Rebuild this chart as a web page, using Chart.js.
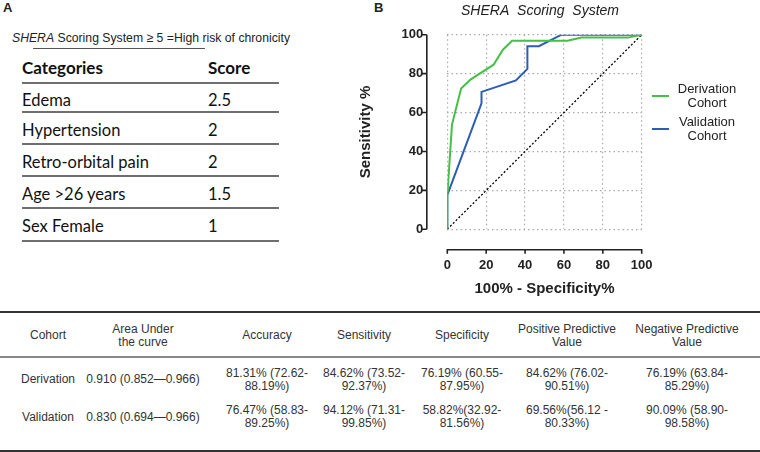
<!DOCTYPE html>
<html>
<head>
<meta charset="utf-8">
<title>SHERA Scoring System</title>
<script src="https://cdn.jsdelivr.net/npm/chart.js"></script>
<style>
  body { margin: 0; background: #fff; width: 760px; height: 452px; position: relative; overflow: hidden; font-family: "Liberation Sans", Arial, sans-serif; color: #222; }
  .abs { position: absolute; white-space: nowrap; }
  .panel { font: bold 13px "Liberation Sans", Arial, sans-serif; line-height: 16px; }
  .cat { font: 16.5px Lato, sans-serif; line-height: 20px; color: #111; }
  .cat.head { font-weight: bold; font-size: 17px; }
  .rule { position: absolute; height: 2px; background: #6f6f6f; }
  .cell { position: absolute; font: 12px "Liberation Sans", Arial, sans-serif; line-height: 13px; color: #333; text-align: center; white-space: pre-line; width: 140px; }
  #chartBox { position: absolute; left: 355px; top: 0; width: 405px; height: 300px; }
</style>
</head>
<body>
<div class="abs panel" style="left:3px;top:0px">A</div>
<div class="abs panel" style="left:374px;top:0px">B</div>
<div id="sub" class="abs" style="left:12px;top:30px;font:13px 'Liberation Sans',Arial,sans-serif;line-height:16px;transform-origin:0 0"><i>SHERA</i> Scoring System ≥ 5 =High risk of chronicity</div>
<div class="rule" style="left:33px;top:48px;width:172px;height:1px;background:#555"></div>
<div id="scoreTable"></div>
<div id="statsTable"></div>
<div id="chartBox"><canvas id="roc"></canvas></div>

<script>
// score table
const categories = ["Edema", "Hypertension", "Retro-orbital pain", "Age >26 years", "Sex Female"];
const scores = ["2.5", "2", "2", "1.5", "1"];

// ROC curves (x = 100% - specificity, y = sensitivity)
const derivX = [0, 0, 2.4, 7.1, 11.9, 23.8, 28.6, 33.3, 61.9, 69.0, 92.9, 100];
const derivY = [0, 16.9, 53.8, 72.3, 76.9, 84.6, 92.3, 96.9, 96.9, 98.5, 98.5, 100];
const validX = [0, 0, 17.6, 17.6, 35.3, 41.2, 41.2, 47.1, 58.8, 100];
const validY = [0, 17.6, 64.7, 70.6, 76.5, 82.4, 94.1, 94.1, 100, 100];
const refX = [0, 100];
const refY = [0, 100];
const axisTicks = [0, 20, 40, 60, 80, 100];

// stats table
const statHeaders = ["Cohort", "Area Under\nthe curve", "Accuracy", "Sensitivity", "Specificity", "Positive Predictive\nValue", "Negative Predictive\nValue"];
const derivStats = ["Derivation", "0.910 (0.852—0.966)", "81.31% (72.62-\n88.19%)", "84.62% (73.52-\n92.37%)", "76.19% (60.55-\n87.95%)", "84.62% (76.02-\n90.51%)", "76.19% (63.84-\n85.29%)"];
const validStats = ["Validation", "0.830 (0.694—0.966)", "76.47% (58.83-\n89.25%)", "94.12% (71.31-\n99.85%)", "58.82%(32.92-\n81.56%)", "69.56%(56.12 -\n80.33%)", "90.09% (58.90-\n98.58%)"];

// squeeze the subtitle like a condensed face
const sub = document.getElementById("sub");
sub.style.transform = "scaleX(" + (278 / sub.getBoundingClientRect().width) + ")";

// left table
let html = "";
html += '<div class="abs cat head" style="left:22px;top:58px">Categories</div>';
html += '<div class="abs cat head" style="left:208px;top:58px">Score</div>';
const lineYs = [82, 111, 143, 175, 207, 240];
lineYs.forEach(y => { html += '<div class="rule" style="left:22px;width:257px;top:' + y + 'px"></div>'; });
const rowYs = [100, 130, 162, 194, 226];
categories.forEach((c, i) => {
  html += '<div class="abs cat" style="left:22px;top:' + (rowYs[i] - 10) + 'px">' + c + '</div>';
  html += '<div class="abs cat" style="left:208px;top:' + (rowYs[i] - 10) + 'px">' + scores[i] + '</div>';
});
document.getElementById("scoreTable").innerHTML = html;

// bottom table
const colX = [48, 143, 267, 364, 462, 567, 687];
let st = "";
st += '<div class="rule" style="left:0;width:760px;top:311px;height:1.5px;background:#333"></div>';
st += '<div class="rule" style="left:0;width:760px;top:356px;height:2px;background:#888"></div>';
st += '<div class="rule" style="left:0;width:760px;top:450px;height:1.5px;background:#333"></div>';
[[statHeaders, 335.5], [derivStats, 379.5], [validStats, 417]].forEach(([row, cy]) => {
  row.forEach((t, i) => {
    const n = t.split("\n").length;
    st += '<div class="cell" style="left:' + (colX[i] - 70) + 'px;top:' + (cy - n * 6.5) + 'px">' + t + '</div>';
  });
});
document.getElementById("statsTable").innerHTML = st;

// chart
const pts = (xs, ys) => xs.map((x, i) => ({ x: x, y: ys[i] }));

const offsetAxes = {
  id: "offsetAxes",
  afterDraw(chart) {
    const { ctx, chartArea, scales } = chart;
    const ax = chartArea.left - 20.5;
    const ay = chartArea.bottom + 20.5;
    ctx.save();
    ctx.strokeStyle = "#222";
    ctx.lineWidth = 1.6;
    ctx.beginPath();
    ctx.moveTo(ax, scales.y.getPixelForValue(100));
    ctx.lineTo(ax, scales.y.getPixelForValue(0));
    axisTicks.forEach(v => {
      const py = scales.y.getPixelForValue(v);
      ctx.moveTo(ax, py);
      ctx.lineTo(ax - 5, py);
    });
    ctx.moveTo(scales.x.getPixelForValue(0), ay);
    ctx.lineTo(scales.x.getPixelForValue(100), ay);
    axisTicks.forEach(v => {
      const px = scales.x.getPixelForValue(v);
      ctx.moveTo(px, ay - 0.8);
      ctx.lineTo(px, ay + 4);
    });
    ctx.stroke();

    // title
    ctx.fillStyle = "#222";
    ctx.font = "italic 14px 'Liberation Sans', Arial, sans-serif";
    ctx.textAlign = "center";
    ctx.textBaseline = "middle";
    ctx.fillText("SHERA  Scoring  System", 185, 11);

    // legend
    ctx.font = "13px 'Liberation Sans', Arial, sans-serif";
    const legendY = [96, 129];
    [0, 1].forEach(i => {
      const ds = chart.data.datasets[i];
      ctx.strokeStyle = ds.borderColor;
      ctx.lineWidth = 2;
      ctx.beginPath();
      ctx.moveTo(297, legendY[i]);
      ctx.lineTo(314, legendY[i]);
      ctx.stroke();
      ctx.fillText(ds.label[0], 352, legendY[i] - 6.5);
      ctx.fillText(ds.label[1], 352, legendY[i] + 7);
    });
    ctx.restore();
  }
};

const tickFont = { family: "'Liberation Sans', Arial, sans-serif", size: 13, weight: "bold" };
const titleFont = { family: "'Liberation Sans', Arial, sans-serif", size: 15, weight: "bold" };

new Chart(document.getElementById("roc"), {
  type: "line",
  data: {
    datasets: [
      { label: ["Derivation", "Cohort"], data: pts(derivX, derivY), borderColor: "#46bf46", borderWidth: 2, pointRadius: 0, tension: 0 },
      { label: ["Validation", "Cohort"], data: pts(validX, validY), borderColor: "#2c5db3", borderWidth: 2, pointRadius: 0, tension: 0 },
      { label: ["ref"], data: pts(refX, refY), borderColor: "#000", borderWidth: 1.3, borderDash: [2, 2], pointRadius: 0 }
    ]
  },
  options: {
    responsive: true,
    maintainAspectRatio: false,
    animation: false,
    layout: { padding: { left: 0, top: 34.7, right: 118.3, bottom: 0 } },
    plugins: { legend: { display: false }, tooltip: { enabled: false }, title: { display: false } },
    scales: {
      x: {
        type: "linear", min: 0, max: 100,
        afterFit: s => { s.height = 70.7; },
        grid: { color: "#aaa", drawTicks: false, lineWidth: 1.2 },
        border: { display: false, dash: [1.5, 3] },
        ticks: { stepSize: 20, padding: 28, color: "#222", font: tickFont },
        title: { display: true, text: "100% - Specificity%", color: "#222", font: titleFont, padding: { top: 0, bottom: 2 } }
      },
      y: {
        min: 0, max: 100,
        afterFit: s => { s.width = 92.3; },
        grid: { color: "#aaa", drawTicks: false, lineWidth: 1.2 },
        border: { display: false, dash: [1.5, 3] },
        ticks: { stepSize: 20, padding: 24, color: "#222", font: tickFont },
        title: { display: true, text: "Sensitivity %", color: "#222", font: titleFont, padding: { top: 1.5, bottom: 0 } }
      }
    }
  },
  plugins: [offsetAxes]
});
</script>
</body>
</html>
